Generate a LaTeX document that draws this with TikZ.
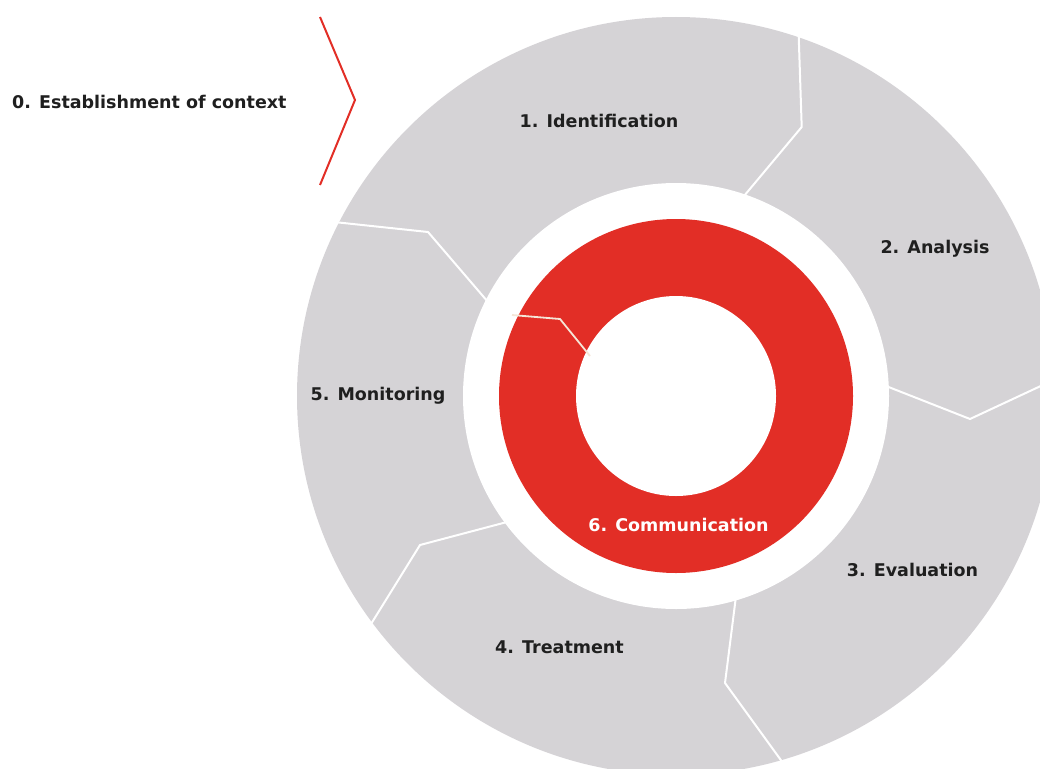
\documentclass[tikz,border=0pt]{standalone}
\usepackage{fontspec}
\setmainfont{DejaVu Sans}
\definecolor{ringgray}{RGB}{213,211,214}
\definecolor{ringred}{RGB}{226,46,38}
\definecolor{cream}{RGB}{245,230,215}
\tikzset{
  lbl/.style={anchor=base, inner sep=0pt, font=\fontsize{17.5}{20}\selectfont\bfseries, text=black!88},
  sep/.style={draw=white, line width=2pt, line join=round},
}
\begin{document}
\begin{tikzpicture}[x=1pt,y=-1pt]
\useasboundingbox (0,0) rectangle (1040,768);
\clip (0,0) rectangle (1040,768);
\coordinate (c) at (676,396);
% rings
\fill[ringgray] (c) circle (379pt);
\fill[white] (c) circle (213pt);
\fill[ringred] (c) circle (177pt);
\fill[white] (c) circle (100pt);
% separators in gray ring
\coordinate (s1a) at (798.5,30); \coordinate (s1b) at (801.7,127); \coordinate (s1c) at (744,196);
\draw[sep] (s1a) -- (s1b) -- (s1c);
\coordinate (s2a) at (886,386); \coordinate (s2b) at (970,419); \coordinate (s2c) at (1060,377);
\draw[sep] (s2a) -- (s2b) -- (s2c);
\coordinate (s3a) at (736,596); \coordinate (s3b) at (725,683); \coordinate (s3c) at (783,763);
\draw[sep] (s3a) -- (s3b) -- (s3c);
\coordinate (s4a) at (507,522); \coordinate (s4b) at (420,545); \coordinate (s4c) at (371,624);
\draw[sep] (s4a) -- (s4b) -- (s4c);
\coordinate (s5a) at (334,222); \coordinate (s5b) at (428,232); \coordinate (s5c) at (488,302);
\draw[sep] (s5a) -- (s5b) -- (s5c);
% separator in red ring
\coordinate (r1a) at (512,315); \coordinate (r1b) at (560,319); \coordinate (r1c) at (590,356);
\draw[draw=cream, line width=1.8pt, line join=round] (r1a) -- (r1b) -- (r1c);
% chevron
\coordinate (v1) at (320,17); \coordinate (v2) at (355,100); \coordinate (v3) at (320,185);
\draw[ringred, line width=2pt] (v1) -- (v2) -- (v3);
% labels
\node[lbl, anchor=base west] (l0) at (12,108.5) {0. Establishment of context};
\node[lbl] (l1) at (599,127) {1. Identification};
\node[lbl] (l2) at (935,253.5) {2. Analysis};
\node[lbl] (l3) at (912.5,576.5) {3. Evaluation};
\node[lbl] (l4) at (559.5,653.5) {4. Treatment};
\node[lbl] (l5) at (378,400.5) {5. Monitoring};
\node[lbl, text=white] (l6) at (678.5,531.5) {6. Communication};
\end{tikzpicture}
\end{document}
